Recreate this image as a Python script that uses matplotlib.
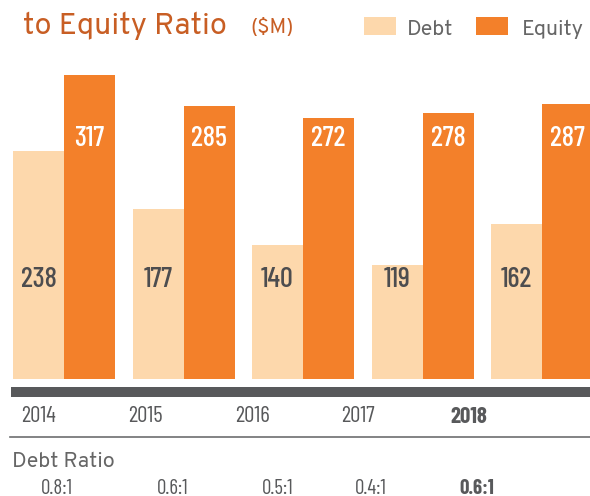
import matplotlib
matplotlib.use("Agg")
import matplotlib.pyplot as plt
from matplotlib.patches import Rectangle
from matplotlib.lines import Line2D

# data
years = ["2014", "2015", "2016", "2017", "2018"]
debt = [238, 177, 140, 119, 162]
equity = [317, 285, 272, 278, 287]
ratios = ["0.8:1", "0.6:1", "0.5:1", "0.4:1", "0.6:1"]

debt_col = "#FDD8AC"
eq_col = "#F3802A"
grey = "#58595B"
title_col = "#C85E24"

W, H = 590, 496
narrow = ["Barlow Condensed", "Roboto Condensed", "DejaVu Sans"]
plain = ["Overpass", "Open Sans", "DejaVu Sans"]

fig = plt.figure(figsize=(W / 100, H / 100), dpi=100)


def px(x, y):
    # pixel (from top-left) -> figure fraction
    return x / W, 1 - y / H


# bar area: pixel x = 64 + 119.5 * i, baseline at y=379
unit = 119.5
scale = 0.958
ax = fig.add_axes([0, (H - 379) / H, 1, (379 - 40) / H])
ax.set_xlim(-64 / unit, (W - 64) / unit)
ax.set_ylim(0, (379 - 40) / scale)
ax.axis("off")

w = 51 / unit
xs = list(range(len(years)))
ax.bar([x - w / 2 for x in xs], debt, width=w, color=debt_col, linewidth=0)
ax.bar([x + w / 2 for x in xs], equity, width=w, color=eq_col, linewidth=0)

for x, d, e in zip(xs, debt, equity):
    ax.text(x - w / 2, 103, str(d), ha="center", va="center", fontsize=20.5,
            color="#4D4D4F", family=narrow, fontweight="medium")
    ax.text(x + w / 2, 251, str(e), ha="center", va="center", fontsize=20.5,
            color="white", family=narrow, fontweight="medium")

# title (first line is cut off in the original)
fig.text(*px(23, 34), "to Equity Ratio", fontsize=22, color=title_col,
         family=plain, va="baseline", ha="left")
fig.text(*px(250, 33), "($M)", fontsize=15, color=title_col,
         family=plain, va="baseline", ha="left")

# legend
for x0, lab, col, tx in [(364, "Debt", debt_col, 407), (476, "Equity", eq_col, 522)]:
    fig.patches.append(Rectangle(px(x0, 35), 32 / W, 18 / H, color=col,
                                 transform=fig.transFigure, linewidth=0))
    fig.text(*px(tx, 35), lab, fontsize=15.5, color="#666666", family=plain,
             va="baseline", ha="left")

# dark axis band and thin rule
fig.patches.append(Rectangle(px(11, 397), (W - 11) / W, 10 / H, color=grey,
                             transform=fig.transFigure, linewidth=0))
fig.lines.append(Line2D([10 / W, 1], [1 - 437 / H] * 2, color="#6D6E70",
                        linewidth=1.2, transform=fig.transFigure))

year_x = [38, 145, 252, 358, 469]
for i, (yr, xp) in enumerate(zip(years, year_x)):
    fig.text(*px(xp, 417), yr, fontsize=16.5, color=grey, family=narrow,
             ha="center", va="center",
             fontweight="bold" if i == len(years) - 1 else "normal")

fig.text(*px(12, 461), "Debt Ratio", fontsize=15.5, color="#666666",
         family=plain, ha="left", va="center")

ratio_x = [57, 173, 278, 371, 477]
for i, (r, xp) in enumerate(zip(ratios, ratio_x)):
    fig.text(*px(xp, 488), r, fontsize=15, color=grey, family=narrow,
             ha="center", va="center",
             fontweight="bold" if i == len(ratios) - 1 else "normal")

fig.savefig("out.png", dpi=100)
